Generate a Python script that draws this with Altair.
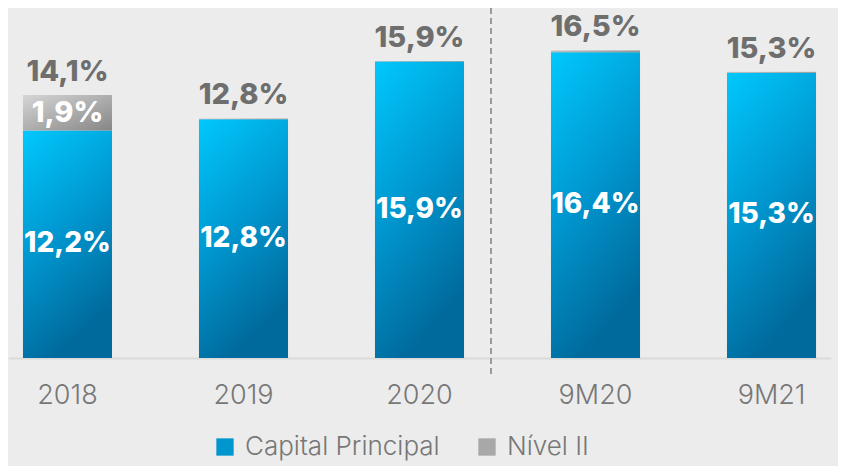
import altair as alt
import pandas as pd

categories = ["2018", "2019", "2020", "9M20", "9M21"]
capital = [12.2, 12.8, 15.9, 16.4, 15.3]
nivel2 = [1.9, 0.05, 0.03, 0.1, 0.05]
capital_labels = ["12,2%", "12,8%", "15,9%", "16,4%", "15,3%"]
nivel2_labels = ["1,9%", "", "", "", ""]
total_labels = ["14,1%", "12,8%", "15,9%", "16,5%", "15,3%"]
series = ["Capital Principal", "Nível II"]

df = pd.DataFrame({
    "cat": categories,
    "capital": capital,
    "nivel2": nivel2,
    "cap_lab": capital_labels,
    "n2_lab": nivel2_labels,
    "tot_lab": total_labels,
})
df["total"] = df["capital"] + df["nivel2"]
df["cap_mid"] = df["capital"] / 2
df["n2_mid"] = df["capital"] + df["nivel2"] / 2

leg_df = pd.DataFrame({"series": series})

FONT = "Inter"
BLUE_GRAD = alt.Gradient(
    gradient="linear",
    stops=[alt.GradientStop(color="#00C8FC", offset=0),
           alt.GradientStop(color="#0099D2", offset=0.5),
           alt.GradientStop(color="#006A9C", offset=1)],
    x1=0, y1=0, x2=0.35, y2=1,
)
GRAY_GRAD = alt.Gradient(
    gradient="linear",
    stops=[alt.GradientStop(color="#D6D6D6", offset=0),
           alt.GradientStop(color="#868686", offset=1)],
    x1=0, y1=0, x2=1, y2=1,
)

x = alt.X("cat:N", sort=categories, title=None,
          scale=alt.Scale(paddingInner=0.494, paddingOuter=0.085),
          axis=alt.Axis(labelFont=FONT, labelFontSize=27, labelFontWeight=300,
                        labelColor="#777777", ticks=False, domainColor="#DADADA",
                        domainWidth=2, labelPadding=24, labelAngle=0))
yscale = alt.Scale(domain=[0, 18.77], nice=False, zero=True)

base = alt.Chart(df)

cap_bars = base.mark_bar(fill=BLUE_GRAD).encode(
    x=x,
    y=alt.Y("capital:Q", scale=yscale, axis=None),
)
n2_bars = base.mark_bar(fill=GRAY_GRAD).encode(
    x=x,
    y=alt.Y("capital:Q", scale=yscale, axis=None),
    y2="total:Q",
)
cap_text = base.mark_text(font=FONT, fontSize=28, fontWeight=800, color="white",
                          baseline="middle").encode(
    x=x, y=alt.Y("cap_mid:Q", scale=yscale, axis=None), text="cap_lab:N")
n2_text = base.mark_text(font=FONT, fontSize=29, fontWeight=800, color="white",
                         baseline="middle").encode(
    x=x, y=alt.Y("n2_mid:Q", scale=yscale, axis=None), text="n2_lab:N")
tot_text = base.mark_text(font=FONT, fontSize=29, fontWeight=800, color="#6E6E6E",
                          baseline="alphabetic", dy=-14).encode(
    x=x, y=alt.Y("total:Q", scale=yscale, axis=None), text="tot_lab:N")

divider = alt.Chart(pd.DataFrame({"d": [0]})).mark_rule(
    color="#9A9A9A", strokeWidth=2, strokeDash=[6, 4]).encode(
    x=alt.value(483), y=alt.value(0), y2=alt.value(370))

legend_layer = alt.Chart(leg_df).mark_square(opacity=0).encode(
    color=alt.Color("series:N", sort=series,
                    scale=alt.Scale(domain=series, range=["#0096CE", "#A8A8A8"]),
                    legend=alt.Legend(title=None, orient="none", direction="horizontal",
                                      legendX=204, legendY=426, symbolType="square",
                                      symbolSize=300, symbolOpacity=1, symbolStrokeWidth=0,
                                      labelFont=FONT, labelFontSize=26, labelFontWeight=300,
                                      labelColor="#777777", labelLimit=0, labelOffset=7,
                                      columnPadding=34)),
)

chart = alt.layer(cap_bars, n2_bars, cap_text, n2_text, tot_text, divider, legend_layer).properties(
    width=823, height=350,
    autosize=alt.AutoSizeParams(type="none"),
    padding={"left": 0, "top": 0, "right": 7, "bottom": 108},
    background="#ECECEC",
).configure_view(stroke=None)

chart.save("out.html", embed_options={"renderer": "svg", "actions": False})
